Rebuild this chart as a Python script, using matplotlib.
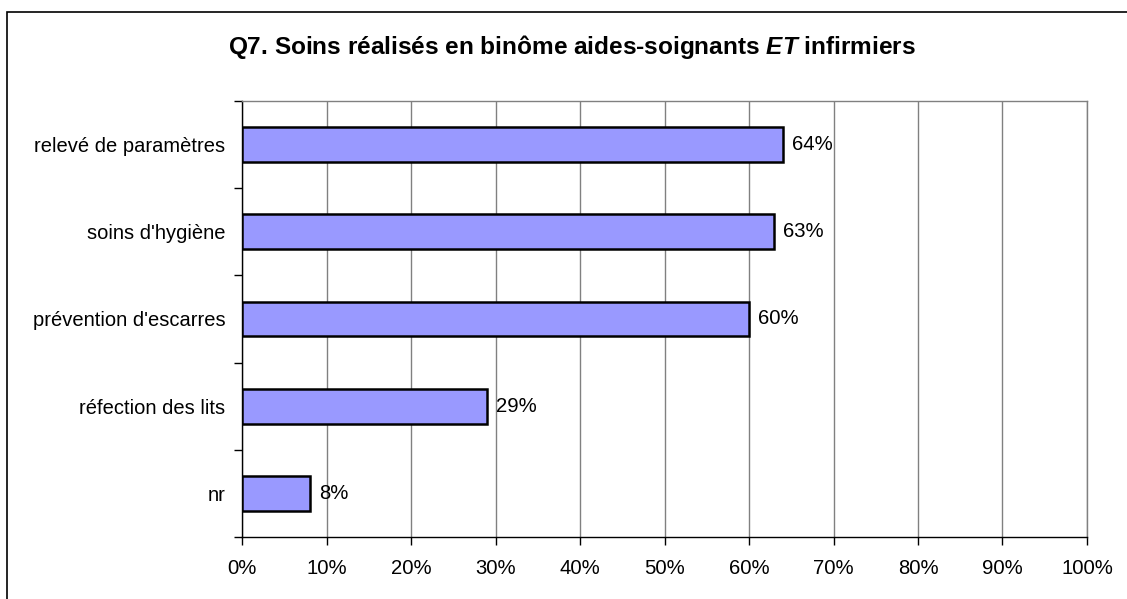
import numpy as np
import matplotlib.pyplot as plt
from matplotlib.patches import Rectangle
from matplotlib.ticker import FixedLocator, PercentFormatter

plt.rcParams['font.family'] = ['Liberation Sans', 'DejaVu Sans']
plt.rcParams['mathtext.fontset'] = 'custom'
plt.rcParams['mathtext.rm'] = 'Liberation Sans'
plt.rcParams['mathtext.bf'] = 'Liberation Sans:bold'
plt.rcParams['mathtext.it'] = 'Liberation Sans:italic'
plt.rcParams['mathtext.bfit'] = 'Liberation Sans:bold:italic'

# data (top to bottom as shown)
categories = ["relevé de paramètres", "soins d'hygiène", "prévention d'escarres",
              "réfection des lits", "nr"]
values = [64, 63, 60, 29, 8]
x_ticks = list(range(0, 101, 10))

fig = plt.figure(figsize=(11.27, 5.99), dpi=100)

# outer frame of the chart area (left + top visible)
fig.patches.append(Rectangle((7 / 1127, -0.1), 1.2, 1 - 12 / 599 + 0.1,
                             transform=fig.transFigure, fill=False,
                             edgecolor='black', linewidth=1.2))

ax = fig.add_axes([242 / 1127, 1 - 537 / 599, (1087 - 242) / 1127, (537 - 101) / 599])

y = np.arange(len(categories))
ax.barh(y, values, height=0.4, color='#9999FF', edgecolor='black', linewidth=1.8, zorder=3)

for yi, v in zip(y, values):
    ax.annotate(f"{v}%", (v, yi), xytext=(6.5, 0), textcoords='offset points',
                va='center', ha='left', fontsize=14.6, zorder=4)

ax.set_xlim(0, 100)
ax.set_ylim(len(categories) - 0.5, -0.5)
ax.set_xticks(x_ticks)
ax.xaxis.set_major_formatter(PercentFormatter(decimals=0))
ax.set_yticks(y)
ax.set_yticklabels(categories)
ax.yaxis.set_minor_locator(FixedLocator(np.arange(-0.5, len(categories), 1.0)))

ax.tick_params(axis='y', which='major', length=0, pad=12, labelsize=14.5)
ax.tick_params(axis='y', which='minor', length=6, width=1.0, direction='out')
ax.tick_params(axis='x', which='major', length=6, width=1.0, direction='out', pad=10, labelsize=14.6)

ax.grid(axis='x', color='#808080', linewidth=1.0, zorder=0)
ax.set_axisbelow(True)

ax.spines['left'].set_color('black')
ax.spines['bottom'].set_color('black')
ax.spines['top'].set_color('#808080')
ax.spines['right'].set_color('#808080')
for s in ax.spines.values():
    s.set_linewidth(1.0)

fig.text(572 / 1127, 1 - 47 / 599,
         r"Q7. Soins réalisés en binôme aides-soignants $\mathbfit{ET}$ infirmiers",
         ha='center', va='center', fontsize=17.6, fontweight='bold')

plt.savefig('out.png', dpi=100)
